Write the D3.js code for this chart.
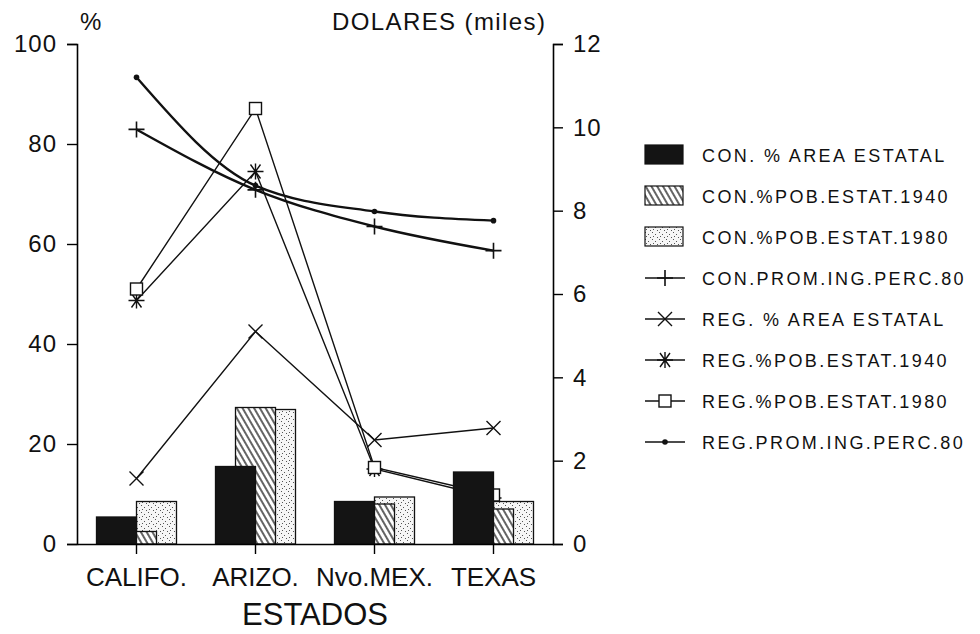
<!DOCTYPE html>
<html>
<head>
<meta charset="utf-8">
<script src="https://cdn.jsdelivr.net/npm/d3@7"></script>
<style>
  body { margin: 0; background: #fff; }
  text { font-family: 'Liberation Sans', Arial, sans-serif; fill: #111; }
</style>
</head>
<body>
<div id="root"></div>
<script>
// DATA
let categories = ['CALIFO.', 'ARIZO.', 'Nvo.MEX.', 'TEXAS'];

// bars, left axis (%)
let conArea = [5.4, 15.5, 8.5, 14.4];
let conPob1940 = [2.5, 27.3, 8.0, 7.0];
let conPob1980 = [8.5, 26.9, 9.4, 8.5];

// lines, left axis (%)
let regArea = [13.1, 42.5, 20.8, 23.2];
let regPob1940 = [48.7, 74.5, 15.0, 9.2];
let regPob1980 = [51.0, 87.1, 15.3, 9.8];

// lines, right axis (miles de dolares)
let conIngreso = [9.95, 8.5, 7.62, 7.04];
let regIngreso = [11.2, 8.6, 7.98, 7.76];

let leftTicks = [0, 20, 40, 60, 80, 100];
let rightTicks = [0, 2, 4, 6, 8, 10, 12];

let legendLabels = [
  'CON. % AREA ESTATAL',
  'CON.%POB.ESTAT.1940',
  'CON.%POB.ESTAT.1980',
  'CON.PROM.ING.PERC.80',
  'REG. % AREA ESTATAL',
  'REG.%POB.ESTAT.1940',
  'REG.%POB.ESTAT.1980',
  'REG.PROM.ING.PERC.80'
];

// DIMENSIONS
let widthh = 980,
    heightt = 634,
    plotLeft = 77,
    plotRight = 553,
    plotTop = 44,
    plotBottom = 544;

let svg = d3.select('#root')
  .append('svg')
  .attr('width', widthh)
  .attr('height', heightt);

// patterns
let defs = svg.append('defs');
defs.append('pattern')
  .attr('id', 'hatch')
  .attr('patternUnits', 'userSpaceOnUse')
  .attr('width', 5)
  .attr('height', 10)
  .attr('patternTransform', 'rotate(-30)')
  .call((p) => {
    p.append('rect').attr('width', 5).attr('height', 10).attr('fill', '#fff');
    p.append('line').attr('x1', 1).attr('x2', 1).attr('y1', 0).attr('y2', 10)
      .attr('stroke', '#111').attr('stroke-width', 1.3);
  });

defs.append('pattern')
  .attr('id', 'dots')
  .attr('patternUnits', 'userSpaceOnUse')
  .attr('width', 7)
  .attr('height', 7)
  .call((p) => {
    p.append('rect').attr('width', 7).attr('height', 7).attr('fill', '#f6f6f6');
    [[1, 1], [4, 3], [2, 5], [6, 6]].forEach((d) => {
      p.append('rect').attr('x', d[0]).attr('y', d[1]).attr('width', 1).attr('height', 1)
        .attr('fill', '#555');
    });
  });

// Scales
let xScale = d3.scaleBand()
  .domain(categories)
  .range([plotLeft, plotRight]);

let yLeft = d3.scaleLinear()
  .domain([0, 100])
  .range([plotBottom, plotTop]);

let yRight = d3.scaleLinear()
  .domain([0, 12])
  .range([plotBottom, plotTop]);

let cx = (i) => xScale(categories[i]) + xScale.bandwidth() / 2;

// markers
function marker(g, type, x, y) {
  if (type === 'plus') {
    g.append('path').attr('d', `M${x - 8},${y}H${x + 8}M${x},${y - 8}V${y + 8}`)
      .attr('stroke', '#111').attr('stroke-width', 1.6).attr('fill', 'none');
  } else if (type === 'cross') {
    g.append('path').attr('d', `M${x - 7},${y - 7}L${x + 7},${y + 7}M${x - 7},${y + 7}L${x + 7},${y - 7}`)
      .attr('stroke', '#111').attr('stroke-width', 1.4).attr('fill', 'none');
  } else if (type === 'star') {
    g.append('path').attr('d', `M${x - 8},${y}H${x + 8}M${x - 5},${y - 7}L${x + 5},${y + 7}M${x - 5},${y + 7}L${x + 5},${y - 7}M${x},${y - 8}V${y + 8}`)
      .attr('stroke', '#111').attr('stroke-width', 1.4).attr('fill', 'none');
  } else if (type === 'square') {
    g.append('rect').attr('x', x - 6).attr('y', y - 6).attr('width', 12).attr('height', 12)
      .attr('stroke', '#111').attr('stroke-width', 1.4).attr('fill', '#fff');
  } else if (type === 'dot') {
    g.append('circle').attr('cx', x).attr('cy', y).attr('r', 2.8).attr('fill', '#111');
  }
}

// Lines (drawn under the bars)
let lineSeries = [
  { values: conIngreso, scale: yRight, type: 'plus', width: 2.4, curve: d3.curveMonotoneX },
  { values: regArea, scale: yLeft, type: 'cross', width: 1.4, curve: d3.curveLinear },
  { values: regPob1940, scale: yLeft, type: 'star', width: 1.4, curve: d3.curveLinear },
  { values: regPob1980, scale: yLeft, type: 'square', width: 1.4, curve: d3.curveLinear },
  { values: regIngreso, scale: yRight, type: 'dot', width: 2.4, curve: d3.curveMonotoneX }
];

let linesG = svg.append('g');
lineSeries.forEach((s) => {
  let line = d3.line()
    .x((d, i) => cx(i))
    .y((d) => s.scale(d))
    .curve(s.curve);
  linesG.append('path')
    .datum(s.values)
    .attr('fill', 'none')
    .attr('stroke', '#111')
    .attr('stroke-width', s.width)
    .attr('d', line);
});
lineSeries.forEach((s) => {
  s.values.forEach((v, i) => marker(linesG, s.type, cx(i), s.scale(v)));
});

// Bars: dotted behind, hatched middle, black in front
let barSeries = [
  { values: conPob1980, fill: 'url(#dots)', offset: 0 },
  { values: conPob1940, fill: 'url(#hatch)', offset: -20 },
  { values: conArea, fill: '#141414', offset: -40 }
];

barSeries.forEach((s) => {
  svg.append('g')
    .selectAll('rect')
    .data(s.values)
    .enter()
    .append('rect')
    .attr('x', (d, i) => cx(i) + s.offset)
    .attr('y', (d) => yLeft(d))
    .attr('width', 40)
    .attr('height', (d) => plotBottom - yLeft(d))
    .attr('fill', s.fill)
    .attr('stroke', '#111')
    .attr('stroke-width', 1.3);
});

// Axes
svg.append('g')
  .attr('transform', `translate(${plotLeft},0)`)
  .call(d3.axisLeft(yLeft).tickValues(leftTicks).tickSize(10).tickPadding(10))
  .call((g) => {
    g.select('.domain').attr('stroke-width', 1.6);
    g.selectAll('.tick line').attr('stroke-width', 1.4);
    g.selectAll('text').style('font-size', '24px').style('letter-spacing', '1px')
      .style('font-family', "'Liberation Sans', Arial, sans-serif").attr('fill', '#111');
  });

svg.append('g')
  .attr('transform', `translate(${plotRight},0)`)
  .call(d3.axisRight(yRight).tickValues(rightTicks).tickSize(10).tickPadding(10))
  .call((g) => {
    g.select('.domain').attr('stroke-width', 1.6);
    g.selectAll('.tick line').attr('stroke-width', 1.4);
    g.selectAll('text').style('font-size', '24px').style('letter-spacing', '1px')
      .style('font-family', "'Liberation Sans', Arial, sans-serif").attr('fill', '#111');
  });

svg.append('g')
  .attr('transform', `translate(0,${plotBottom})`)
  .call(d3.axisBottom(xScale).tickSize(10).tickSizeOuter(0))
  .call((g) => {
    g.select('.domain').attr('stroke-width', 1.6);
    g.selectAll('.tick line').attr('stroke-width', 1.4);
    g.selectAll('text').attr('y', 42).attr('dy', 0)
      .style('font-size', '26px')
      .style('font-family', "'Liberation Sans', Arial, sans-serif").attr('fill', '#111');
  });

// Titles
svg.append('text')
  .attr('x', plotLeft + 3)
  .attr('y', 30)
  .style('font-size', '24px')
  .text('%');

svg.append('text')
  .attr('x', 332)
  .attr('y', 30)
  .style('font-size', '24px')
  .style('letter-spacing', '1.4px')
  .text('DOLARES (miles)');

svg.append('text')
  .attr('x', (plotLeft + plotRight) / 2)
  .attr('y', 625)
  .attr('text-anchor', 'middle')
  .style('font-size', '31px')
  .text('ESTADOS');

// Legend
let legendTypes = ['black', 'hatch', 'dots', 'plus', 'cross', 'star', 'square', 'dot'];
let legend = svg.append('g');
legendLabels.forEach((label, i) => {
  let y = 155 + i * 41;
  let t = legendTypes[i];
  if (t === 'black' || t === 'hatch' || t === 'dots') {
    legend.append('rect')
      .attr('x', 645).attr('y', y - 10).attr('width', 38).attr('height', 19)
      .attr('fill', t === 'black' ? '#141414' : `url(#${t})`)
      .attr('stroke', '#111').attr('stroke-width', 1.2);
  } else {
    legend.append('line')
      .attr('x1', 645).attr('x2', 685).attr('y1', y).attr('y2', y)
      .attr('stroke', '#111').attr('stroke-width', 1.4);
    marker(legend, t, 665, y);
  }
  legend.append('text')
    .attr('x', 702)
    .attr('y', y + 7)
    .style('font-size', '18px')
    .style('letter-spacing', '2.4px')
    .text(label);
});
</script>
</body>
</html>
